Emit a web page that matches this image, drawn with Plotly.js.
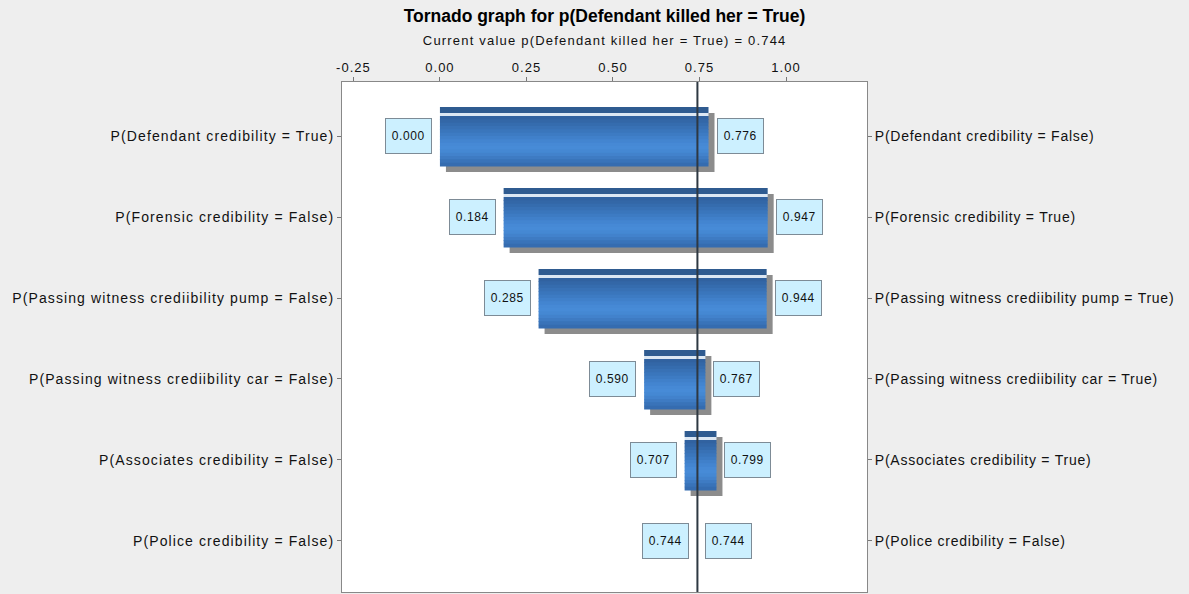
<!DOCTYPE html>
<html>
<head>
<meta charset="utf-8">
<script src="https://cdn.plot.ly/plotly-3.0.1.min.js"></script>
<style>
  html, body { margin: 0; padding: 0; background: #eeeeee; }
  #chart { width: 1189px; height: 594px; }
  #chart .ytick text { letter-spacing: 1.1px; }
  #chart .y2tick text { letter-spacing: 0.75px; }
  #chart .xtick text { letter-spacing: 1px; }
  #chart .annotation .annotation-text { letter-spacing: 0.6px; }
  #chart .annotation[data-index="12"] .annotation-text { letter-spacing: 1.2px; }
</style>
</head>
<body>
<div id="chart"></div>
<script>
// ---- data ----
const titleText = "Tornado graph for p(Defendant killed her = True)";
const subtitleText = "Current value p(Defendant killed her = True) = 0.744";
const leftLabels = [
  "P(Defendant credibility = True)",
  "P(Forensic credibility = False)",
  "P(Passing witness crediibility pump = False)",
  "P(Passing witness crediibility car = False)",
  "P(Associates credibility = False)",
  "P(Police credibility = False)"
];
const rightLabels = [
  "P(Defendant credibility = False)",
  "P(Forensic credibility = True)",
  "P(Passing witness crediibility pump = True)",
  "P(Passing witness crediibility car = True)",
  "P(Associates credibility = True)",
  "P(Police credibility = False)"
];
const lowValues  = [0.000, 0.184, 0.285, 0.590, 0.707, 0.744];
const highValues = [0.776, 0.947, 0.944, 0.767, 0.799, 0.744];
const currentValue = 0.744;
const xTickVals = [-0.25, 0, 0.25, 0.5, 0.75, 1.0];
const xTickText = ["-0.25", "0.00", "0.25", "0.50", "0.75", "1.00"];

// ---- derived ----
const rows = leftLabels.map((_, i) => i);
const lengths = highValues.map((h, i) => h - lowValues[i]);
const PX = 1 / 81;          // one pixel in category units
const PXX = 1 / 346;        // one pixel in value units
const FONT = "Liberation Sans, Arial, sans-serif";

function band(fromPx, toPx, color, dx) {
  return {
    type: "bar", orientation: "h",
    y: rows, x: lengths,
    base: lowValues.map(v => v + (dx || 0) * PXX),
    offset: fromPx * PX, width: (toPx - fromPx) * PX,
    marker: { color: color, line: { width: 0 } },
    hoverinfo: "skip", showlegend: false
  };
}

// vertical gradient for the main bar body (pixel rows -20..30 from row centre)
const gradient = ["#3162a0", "#3367a7", "#356cae", "#3871b5", "#3a76bc", "#3d7bc3",
                  "#4080ca", "#4385d0", "#4689d5", "#478bd7", "#4588d3", "#4282cc",
                  "#3e7bc3", "#3973b9", "#356cb0"];
const traces = [
  band(-23, 36, "#8c8c8c", 6),     // shadow
  band(-29, -23, "#2f5b90"),       // top strip
  band(-23, -20, "#dce7f3")        // highlight gap
];
const step = 50 / gradient.length;
gradient.forEach((c, k) => {
  traces.push(band(-20 + k * step, -20 + (k + 1) * step + 0.6, c));
});
traces.push({ type: "scatter", mode: "markers", x: lowValues, y: rows, yaxis: "y2",
  marker: { opacity: 0 }, hoverinfo: "skip", showlegend: false });

const boxStyle = {
  showarrow: false, font: { family: FONT, size: 12, color: "#111" },
  bgcolor: "#ccf0ff", bordercolor: "#7d8b96", borderwidth: 1, borderpad: 1,
  width: 43, height: 32, xref: "x", yref: "y", yanchor: "middle"
};
const annotations = [];
rows.forEach(i => {
  annotations.push(Object.assign({}, boxStyle, {
    x: lowValues[i], y: i, text: lowValues[i].toFixed(3), xanchor: "right", xshift: -8
  }));
  annotations.push(Object.assign({}, boxStyle, {
    x: highValues[i], y: i, text: highValues[i].toFixed(3), xanchor: "left", xshift: 8
  }));
});
annotations.push({
  text: subtitleText, showarrow: false, xref: "paper", yref: "paper",
  x: 0.5, y: 1 + 42 / 510, xanchor: "center", yanchor: "middle",
  font: { family: FONT, size: 13, color: "#111" }
});

const yRange = [5.63, -0.667];
const layout = {
  width: 1189, height: 594,
  paper_bgcolor: "#eeeeee", plot_bgcolor: "#ffffff",
  margin: { l: 342, r: 322, t: 82, b: 2 },
  barmode: "overlay",
  title: {
    text: titleText, x: 0.5, xref: "paper", xanchor: "center",
    y: 1 - 16 / 594, yref: "container", yanchor: "middle",
    font: { family: FONT, size: 17.5, weight: "bold", color: "#000" }
  },
  xaxis: {
    side: "top", range: [-0.283, 1.234], tickvals: xTickVals, ticktext: xTickText,
    ticks: "outside", ticklen: 4, tickcolor: "#777", showgrid: false, zeroline: false,
    showline: true, mirror: true, linecolor: "#888", linewidth: 1,
    tickfont: { family: FONT, size: 13, color: "#111" }, fixedrange: true
  },
  yaxis: {
    range: yRange, tickvals: rows, ticktext: leftLabels,
    ticks: "outside", ticklen: 4, tickcolor: "#777", showgrid: false, zeroline: false,
    showline: true, mirror: true, linecolor: "#888", linewidth: 1,
    tickfont: { family: FONT, size: 14, color: "#111" }, fixedrange: true
  },
  yaxis2: {
    overlaying: "y", side: "right", range: yRange, tickvals: rows, ticktext: rightLabels,
    ticks: "outside", ticklen: 4, tickcolor: "#777", showgrid: false, zeroline: false,
    showline: false, tickfont: { family: FONT, size: 14, color: "#111" }, fixedrange: true
  },
  shapes: [{
    type: "line", xref: "x", yref: "paper", x0: currentValue, x1: currentValue, y0: 0, y1: 1,
    line: { color: "#2e3842", width: 2 }, layer: "above"
  }],
  annotations: annotations
};

Plotly.newPlot("chart", traces, layout, { displayModeBar: false, staticPlot: true });
</script>
</body>
</html>
